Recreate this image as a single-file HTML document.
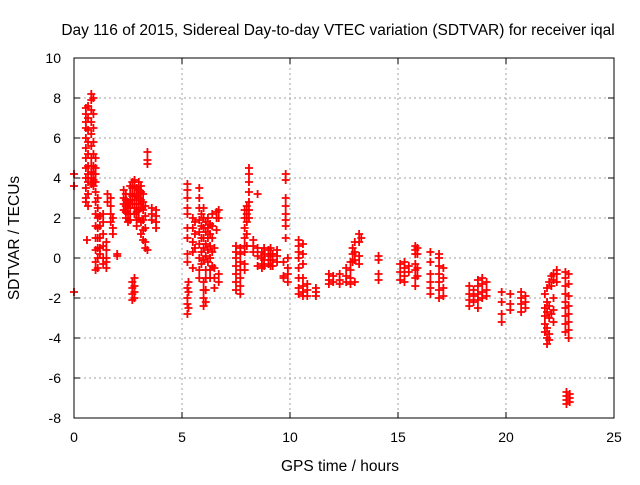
<!DOCTYPE html>
<html><head><meta charset="utf-8"><style>
body{margin:0;background:#fff;}
svg text{font-family:"Liberation Sans",sans-serif;font-size:14px;fill:#000;}
svg text.big{font-size:15.5px;}
</style></head><body>
<svg id="chart" width="640" height="480">
<text class="big" x="338" y="35" text-anchor="middle">Day 116 of 2015, Sidereal Day-to-day VTEC variation (SDTVAR) for receiver iqal</text>
<text class="big" x="340" y="471" text-anchor="middle">GPS time / hours</text>
<text class="big" transform="translate(19,238) rotate(-90)" text-anchor="middle">SDTVAR / TECUs</text>
<g id="grid"></g><g id="ticks"></g><g id="marks"></g>
<rect x="74" y="58" width="540" height="360" fill="none" stroke="#000" stroke-width="1"/>
</svg>
<script>
const xTicks=[0,5,10,15,20,25];
const yTicks=[-8,-6,-4,-2,0,2,4,6,8,10];
const colTimes=[0,0.55,0.65,0.8,0.9,1.0,1.1,1.2,1.35,0.6,1.5,1.7,1.8,1.55,2.0,2.3,2.4,2.5,2.6,2.7,2.8,2.9,3.0,3.1,3.2,3.3,3.4,3.6,3.8,
5.25,5.3,5.5,5.6,5.8,5.9,6.0,6.1,6.2,6.3,6.4,6.6,6.7,6.5,7.5,7.7,7.9,8.0,8.1,8.3,8.5,8.7,9.0,9.2,
9.8,8.8,9.1,9.4,9.7,9.9,10.4,10.6,10.8,11.2,11.8,12.0,12.3,12.6,12.8,12.9,13.0,13.2,13.3,14.1,
15.1,15.3,15.5,15.8,15.9,16.5,16.9,17.1,18.3,18.5,18.7,18.9,19.1,19.8,20.2,20.7,20.9,
21.8,21.9,22.0,22.1,22.2,22.35,22.75,22.9,22.8,22.95];
const colValues=[[4.2,3.6,-1.7],[7.5,7.2,6.8,6.5,6.0,5.5,5.0,4.5,4.0,3.5,3.0,2.8],[7.6,7.0,6.4,5.8,5.2,4.6,4.2,3.8,3.2,2.6],
[8.2,7.9,7.4,6.8,6.2,5.6,5.0,4.6,4.3,4.0,3.7],[8.0,7.2,6.5,5.8,5.2,4.6,4.2,3.9,3.6],
[5.0,4.5,4.2,3.8,3.3,2.8,2.2,1.6,1.0,0.4,-0.2,-0.6],[3.0,2.5,2.0,1.5,1.0,0.5,0.0,-0.5],[2.1,1.6,1.0,0.5,0.2],
[2.2,1.8,1.2,0.6,0.0,-0.3],[0.9],[0.8,0.4,0.0,-0.2,-0.5],[3.0,2.6,2.2,1.8],[2.0,1.5,1.2],[3.2,2.8],[0.2,0.1],
[3.4,3.0,2.7,2.4],[3.2,2.9,2.6,2.3,2.0],[2.8,2.5,2.2,1.8],[3.6,3.2,2.9,2.5,2.2,1.9],[3.8,3.5,3.1,2.7,-1.2,-1.5,-1.8,-2.1],
[3.9,3.6,3.2,2.9,2.5,2.2,-1.0,-1.4,-1.7,-2.0],[3.5,3.1,2.7,2.3,1.9,1.6],[3.8,3.4,3.0,2.7,2.4,2.0],[3.6,3.3,2.9,2.5,1.8,1.2],
[3.2,2.8,2.4,1.9,1.4,0.9],[2.6,2.1,1.5,0.8,0.5],[4.9,4.7,5.3,0.4],[2.5,2.2,1.9],[2.4,2.1,1.8,1.5],
[3.7,3.4,3.0,2.5,2.2,1.5,1.0,0.2,-0.2,-1.5,-2.0,-2.3,-2.8],[-1.2,-1.7,-2.5],[2.0,1.5,0.8,0.3,-0.5],[1.8,1.2,0.5],
[3.5,3.0,2.5,1.9,1.3,0.7,0.0,-0.6,-1.0],[2.2,1.6,1.0,0.3,-0.3],[2.5,2.0,1.5,1.0,0.5,-0.1,-1.2,-1.6,-2.0,-2.4],
[1.8,1.3,0.7,0.1,-0.6,-1.0,-1.6,-2.2],[2.0,1.5,1.0,0.4,-0.2],[1.7,1.2,0.6,0.0,-0.6,-1.0],[2.2,1.6,1.0,0.3,-0.4],
[2.3,2.0,1.4],[2.4,2.0,-0.8,-1.2],[0.5,-0.5,-1.0,-1.5],[0.6,0.3,0.0,-0.4,-0.8,-1.2,-1.6],[0.5,0.2,-0.2,-0.6,-1.0,-1.4,-1.8],
[1.0,1.5,2.0,2.4,0.6,0.3,-0.3,-0.6],[2.6,2.2,1.8,1.2,0.6],[4.5,4.2,3.8,3.3,2.8,2.4,2.0],[0.9,0.6,0.3],[3.2,0.5,0.1,-0.4],
[0.3,0.0,-0.3,-0.5],[0.4,0.1,-0.3],[0.2,-0.1,-0.4],
[4.2,3.9,3.0,2.6,2.2,1.9,1.6,1.0],[0.5,0.2,-0.1,-0.4],[0.5,0.2,-0.1,-0.4],[0.4,0.1,-0.2],[-0.2,-0.9,-1.0],[0.0,-0.5,-0.8,-1.2],
[0.9,0.6,0.3,0.0,-0.5,-1.0,-1.5,-1.8],[0.7,0.2,-0.3,-1.0,-1.4,-1.7,-1.9],[-1.3,-1.6,-1.9],[-1.5,-1.7,-1.9],
[-0.8,-1.1,-1.3],[-0.9,-1.2],[-0.8,-1.1,-1.3],[-0.5,-0.9,-1.2],[-0.2,-0.6,-1.0,-1.3],[0.5,0.2,-0.2],[0.8,0.3,-0.1,-1.2],
[1.2,0.8,0.1,-0.3],[1.0],[0.1,-0.1,-0.8,-1.1],
[-0.3,-0.7,-1.1],[-0.2,-0.5,-0.9,-1.2],[-0.4,-0.7],[0.6,0.4,0.2,-0.3,-0.6,-1.0,-1.4],[0.5,0.2,-0.5,-0.9],
[0.3,-0.2,-0.8,-1.2,-1.5,-1.8],[0.2,0.0,-0.4,-0.8,-1.2,-1.6,-2.0],[-0.5,-1.0,-1.5,-1.9],
[-1.4,-1.8,-2.1,-2.4],[-1.6,-1.9,-2.2],[-1.1,-1.4,-1.8,-2.1,-2.5],[-1.0,-1.3,-1.7,-2.0],[-1.2,-1.6,-1.9],
[-1.7,-2.2,-2.8,-3.2],[-1.8,-2.3,-2.6],[-1.7,-2.0,-2.3,-2.7],[-1.9,-2.2,-2.5],
[-1.8,-2.5,-2.9,-3.3,-3.7],[-1.5,-2.2,-2.7,-3.5,-4.0,-4.3],[-1.2,-2.4,-3.0,-3.8,-4.1],[-0.9,-1.4,-2.8],[-0.8,-1.1,-2.0,-2.6,-3.2],
[-0.6,-0.8,-1.2],[-0.7,-1.0,-1.4,-1.8,-2.2,-2.5,-2.9,-3.3,-3.7],[-0.8,-1.3,-1.9,-2.4,-2.8,-3.2,-3.6,-4.0],
[-6.7,-6.9,-7.1,-7.3],[-6.8,-7.0,-7.2]];
const NS="http://www.w3.org/2000/svg";
const xs=t=>74+t*21.6, ys=v=>258-v*20;
function mk(tag,attrs,parent){const e=document.createElementNS(NS,tag);for(const k in attrs)e.setAttribute(k,attrs[k]);parent.appendChild(e);return e;}
const grid=document.getElementById('grid'),ticks=document.getElementById('ticks'),marks=document.getElementById('marks');
xTicks.forEach(t=>{const x=xs(t);
 if(t>0&&t<25){const g=mk('line',{x1:x,x2:x,y1:58,y2:418,stroke:'#a0a0a0','stroke-dasharray':'2,3'},grid);
 
 }
 mk('line',{x1:x,x2:x,y1:418,y2:412,stroke:'#000'},ticks);mk('line',{x1:x,x2:x,y1:58,y2:64,stroke:'#000'},ticks);
 const l=mk('text',{x:x,y:442,'text-anchor':'middle'},ticks);l.textContent=t;
 
 });
yTicks.forEach(v=>{const y=ys(v);
 if(v>-8&&v<10){const g=mk('line',{x1:74,x2:614,y1:y,y2:y,stroke:'#a0a0a0','stroke-dasharray':'2,3'},grid);
 
 }
 mk('line',{x1:74,x2:80,y1:y,y2:y,stroke:'#000'},ticks);mk('line',{x1:608,x2:614,y1:y,y2:y,stroke:'#000'},ticks);
 const l=mk('text',{x:61,y:y+5,'text-anchor':'end'},ticks);l.textContent=v;
 
 });
colTimes.forEach((t,i)=>{colValues[i].forEach(v=>{const x=xs(t),y=ys(v);
 const p=mk('path',{d:`M${x-4} ${y}H${x+4}M${x} ${y-4}V${y+4}`,stroke:'#f00','stroke-width':1.8},marks);
 
 });});
</script>
</body></html>
